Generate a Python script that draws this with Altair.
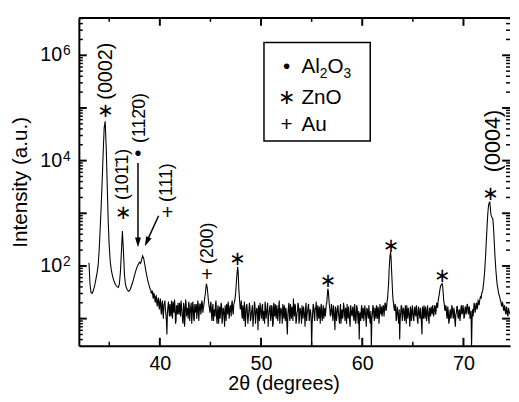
import altair as alt
import pandas as pd

# ---------------- data ----------------
two_theta_start = 33.0   # degrees, first sample of the main grid
two_theta_step = 0.1     # grid step

intensity = [
    115, 45, 31, 30, 33, 38, 46, 58, 75, 100,                 # 33
    190, 480, 1300, 4000, 14000, 42000, 56000, 18000, 3500, 700,  # 34
    240, 120, 85, 68, 57, 50, 45, 42, 40, 39,                 # 35
    45, 75, 180, 460, 200, 70, 45, 38, 35, 33,                # 36
    34, 37, 42, 48, 56, 66, 78, 90, 100, 110,                 # 37
    118, 112, 132, 155, 140, 110, 84, 66, 54, 45,             # 38
    39, 35, 32, 28, 30, 24, 26, 20, 23, 18,                   # 39
    21, 15, 19, 13, 18, 22, 12, 5, 17, 14,                    # 40
    19, 11, 16, 21, 13, 17, 9, 15, 20, 12,                    # 41
    16, 22, 13, 8, 17, 12, 19, 14, 10, 18,                    # 42
    13, 20, 12, 17, 9, 15, 19, 13, 18, 14,                    # 43
    19, 15, 20, 16, 22, 30, 46, 36, 22, 16,                   # 44
    18, 12, 16, 9, 15, 19, 11, 14, 8, 17,                     # 45
    13, 18, 10, 15, 7, 14, 19, 12, 16, 14,                    # 46
    15, 19, 14, 18, 22, 32, 62, 96, 38, 20,                   # 47
    17, 12, 18, 9, 15, 11, 19, 8, 14, 17,                     # 48
    10, 15, 7, 13, 18, 11, 16, 6, 14, 20,                     # 49
    12, 17, 9, 14, 21, 10, 15, 7, 13, 18,                     # 50
    11, 16, 8, 14, 19, 10, 15, 12, 22, 11,                    # 51
    15, 8, 14, 18, 9, 13, 5, 16, 11, 19,                      # 52
    10, 14, 24, 11, 17, 9, 14, 18, 10, 15,                    # 53
    8, 13, 17, 11, 16, 9, 14, 19, 10, 14,                     # 54
    2.8, 13, 17, 9, 15, 12, 18, 10, 14, 16,                   # 55
    11, 15, 10, 16, 14, 20, 37, 24, 15, 12,                   # 56
    16, 9, 14, 6, 15, 11, 18, 10, 14, 8,                      # 57
    15, 11, 17, 9, 14, 19, 10, 13, 7, 15,                     # 58
    11, 17, 9, 14, 10, 16, 8, 4, 13, 15,                      # 59
    10, 16, 12, 14, 7, 15, 10, 13, 8, 2.8,                    # 60
    12, 16, 9, 14, 18, 10, 15, 11, 14, 17,                    # 61
    13, 17, 15, 19, 16, 24, 45, 120, 183, 80,                 # 62
    30, 19, 14, 16, 10, 14, 8, 4, 13, 17,                     # 63
    11, 15, 9, 14, 18, 10, 13, 7, 15, 12,                     # 64
    14, 9, 17, 11, 14, 8, 15, 10, 13, 5,                      # 65
    14, 18, 10, 15, 11, 14, 8, 13, 17, 12,                    # 66
    15, 13, 17, 14, 19, 22, 28, 38, 44, 46,                   # 67
    30, 19, 14, 16, 10, 14, 9, 15, 11, 16,                    # 68
    10, 14, 7, 13, 17, 10, 15, 11, 18, 13,                    # 69
    15, 11, 17, 14, 19, 12, 16, 11, 2.8, 15,                  # 70
    14, 18, 15, 20, 17, 21, 22, 26, 30, 34,                   # 71
    48, 80, 170, 420, 950, 1500, 1630, 1000, 850, 800,        # 72
    420, 170, 85, 50, 37, 29, 25, 21, 17, 19,                 # 73
    14, 16, 12, 15, 11, 14, 12,                               # 74
]

# the scan is denser than the 0.1 grid: samples half way between, from 39.05
mid_start = 39.05
intensity_mid = [
    36, 30, 34, 24, 29, 20, 27, 17, 25, 15,                   # 39.x5
    24, 12, 22, 10, 20, 15, 9, 13, 21, 11,                    # 40.x5
    14, 22, 10, 17, 23, 8, 18, 12, 14, 20,                    # 41.x5
    11, 17, 9, 20, 7, 23, 11, 16, 21, 9,                      # 42.x5
    17, 8, 21, 10, 19, 13, 10, 22, 9, 19,                     # 43.x5
    12, 22, 13, 18, 26, 38, 42, 28, 18, 13,                   # 44.x5
    21, 9, 19, 13, 11, 22, 8, 18, 12, 10,                     # 45.x5
    20, 8, 16, 11, 18, 9, 16, 21, 10, 18,                     # 46.x5
    11, 22, 12, 20, 26, 45, 80, 70, 27, 15,                   # 47.x5
    22, 10, 14, 21, 7, 17, 13, 11, 20, 9,                     # 48.x5
    13, 18, 10, 21, 8, 15, 12, 18, 9, 16,                     # 49.x5
    10, 19, 12, 8, 17, 13, 20, 11, 16, 9,                     # 50.x5
    18, 7, 20, 11, 13, 18, 9, 17, 8, 16,                      # 51.x5
    12, 19, 10, 13, 16, 8, 12, 20, 9, 14,                     # 52.x5
    17, 9, 15, 19, 8, 13, 20, 8, 16, 12,                      # 53.x5
    18, 10, 14, 7, 20, 12, 17, 9, 15, 10,                     # 54.x5
    8, 19, 11, 16, 21, 9, 13, 17, 8, 19,                      # 55.x5
    9, 18, 13, 11, 19, 28, 33, 18, 11, 19,                    # 56.x5
    12, 18, 10, 17, 9, 16, 13, 8, 19, 12,                     # 57.x5
    10, 20, 12, 16, 8, 13, 17, 9, 18, 12,                     # 58.x5
    16, 10, 19, 8, 18, 11, 14, 12, 9, 18,                     # 59.x5
    13, 9, 18, 10, 16, 12, 18, 9, 14, 10,                     # 60.x5
    18, 11, 16, 10, 13, 17, 8, 19, 12, 11,                    # 61.x5
    18, 11, 20, 14, 21, 33, 80, 160, 140, 50,                 # 62.x5
    22, 15, 19, 9, 17, 11, 15, 10, 18, 9,                     # 63.x5
    16, 11, 18, 8, 13, 16, 11, 17, 9, 18,                     # 64.x5
    10, 15, 12, 18, 9, 17, 12, 16, 8, 17,                     # 65.x5
    10, 13, 17, 9, 18, 10, 16, 11, 14, 18,                    # 66.x5
    11, 18, 12, 20, 16, 25, 33, 42, 45, 40,                   # 67.x5
    22, 15, 18, 11, 17, 8, 13, 10, 18, 12,                    # 68.x5
    16, 9, 12, 17, 11, 14, 9, 16, 12, 18,                     # 69.x5
    10, 16, 12, 18, 13, 17, 10, 14, 9, 11,                    # 70.x5
    20, 13, 19, 15, 22, 18, 25, 24, 32, 40,                   # 71.x5
    62, 120, 280, 650, 1250, 1600, 1300, 900, 820, 600,       # 72.x5
    270, 120, 65, 42, 32, 27, 22, 18, 20, 15,                 # 73.x5
    18, 13, 17, 12, 16, 13,                                   # 74.x5
]

x_ticks_major = [40, 50, 60, 70]
x_ticks_minor = [35, 45, 55, 65]
y_label_values = [1e2, 1e4, 1e6]
y_label_base = ["10", "10", "10"]
y_label_exp = ["2", "4", "6"]

# rotated Miller-index labels (x = centre line, y = lower end of the text)
label_text = ["(0002)", "(101\u03041)", "(112\u03040)", "(111)", "(200)", "(0004)"]
label_x = [34.72, 36.4, 38.0, 40.75, 44.74, 72.9]
label_y = [144000, 1790, 21700, 1640, 109, 6000]
label_size = [20, 18, 18, 18, 18, 22]

# phase symbols next to the peaks (star = ZnO, dot = Al2O3, plus = Au)
symbol_text = ["\u2217", "\u2217", "\u2022", "+", "+", "\u2217",
               "\u2217", "\u2217", "\u2217", "\u2217"]
symbol_x = [34.63, 36.38, 37.84, 40.75, 44.65, 72.66, 47.66, 56.61, 62.84, 67.9]
symbol_y = [66400, 789, 10400, 789, 52.4, 1786, 104, 40.5, 182, 50.2]

arrow_x1 = [37.84, 39.88]
arrow_y1 = [9000, 897]
arrow_x2 = [37.84, 38.81]
arrow_y2 = [319, 319]
arrowhead_x = [37.84, 38.717]
arrowhead_y = [281, 287]
arrowhead_angle = [0, 24]

legend_box = {"x1": [50.29], "x2": [60.79], "y1": [1.75e6], "y2": [23650]}
legend_symbols = ["\u2022", "\u2217", "+"]
legend_rows_y = [4.6e5, 1.213e5, 3.63e4]
legend_x = 52.53

# ---------------- chart ----------------
FONT = "Liberation Sans, Arial, DejaVu Sans"
W, H = 438, 333

two_theta = [round(two_theta_start + two_theta_step * i, 2) for i in range(len(intensity))]
two_theta_mid = [round(mid_start + two_theta_step * i, 2) for i in range(len(intensity_mid))]
spec = pd.DataFrame({"two_theta": two_theta + two_theta_mid,
                     "intensity": intensity + intensity_mid}).sort_values("two_theta")

xs = alt.Scale(domain=[32, 74.6], nice=False, zero=False)
ys = alt.Scale(type="log", domain=[3.06, 5.13e6], nice=False)

AX_X = alt.Axis(values=x_ticks_major, format="d", ticks=False, tickSize=0,
                labelFontSize=20, labelPadding=8, grid=False,
                title="2\u03b8 (degrees)", titleFontSize=20, titleX=208, titleY=45,
                titleAlign="center", titleBaseline="alphabetic")
AX_Y = alt.Axis(labels=False, ticks=False, tickSize=0, grid=False,
                title="Intensity (a.u.)", titleFontSize=21, titleX=-53, titleY=166.5,
                titleAngle=270, titleAlign="center", titleBaseline="alphabetic")


def X(f):
    return alt.X(f, type="quantitative", scale=xs, axis=AX_X)


def Y(f):
    return alt.Y(f, type="quantitative", scale=ys, axis=AX_Y)


line = alt.Chart(spec).mark_line(color="black", strokeWidth=1.1, clip=True).encode(
    x=X("two_theta"), y=Y("intensity"), order="two_theta:Q")

layers = [line]

# top frame line
layers.append(alt.Chart(pd.DataFrame({"a": [0]})).mark_rule(color="black", strokeWidth=2).encode(
    x=alt.value(0), x2=alt.value(W), y=alt.value(0)))

# inward ticks
xt_major = pd.DataFrame({"t": x_ticks_major})
xt_minor = pd.DataFrame({"t": x_ticks_minor})
for df, ln, sw in [(xt_major, 8, 2), (xt_minor, 4, 1.5)]:
    layers.append(alt.Chart(df).mark_rule(color="black", strokeWidth=sw).encode(
        x=X("t"), y=alt.value(H), y2=alt.value(H - ln)))
    layers.append(alt.Chart(df).mark_rule(color="black", strokeWidth=sw).encode(
        x=X("t"), y=alt.value(0), y2=alt.value(ln)))

y_major = [10.0 ** k for k in range(1, 7)]
y_minor = [m * 10.0 ** k for k in range(0, 7) for m in range(2, 10) if 3.06 <= m * 10.0 ** k <= 5.13e6]
for vals, ln, sw in [(y_major, 8, 2), (y_minor, 4, 1.5)]:
    df = pd.DataFrame({"t": vals})
    layers.append(alt.Chart(df).mark_rule(color="black", strokeWidth=sw).encode(
        y=Y("t"), x=alt.value(0), x2=alt.value(ln)))
    layers.append(alt.Chart(df).mark_rule(color="black", strokeWidth=sw).encode(
        y=Y("t"), x=alt.value(W), x2=alt.value(W - ln)))

# y tick labels 10^n
ylab = pd.DataFrame({"v": y_label_values, "b": y_label_base, "e": y_label_exp})
layers.append(alt.Chart(ylab).mark_text(align="right", baseline="middle", fontSize=20, font=FONT,
                                        color="black").encode(
    y=Y("v"), x=alt.value(-17), text="b:N"))
layers.append(alt.Chart(ylab).mark_text(align="left", baseline="alphabetic", fontSize=14, font=FONT,
                                        color="black").encode(
    y=Y("v"), x=alt.value(-16), text="e:N"))

# rotated peak labels
pk = pd.DataFrame({"x": label_x, "y": label_y, "t": label_text, "s": label_size})
layers.append(alt.Chart(pk).mark_text(angle=270, align="left", baseline="middle",
                                      font=FONT, color="black").encode(
    x=X("x"), y=Y("y"), text="t:N", size=alt.Size("s:Q", scale=None)))

# phase symbols
sy = pd.DataFrame({"x": symbol_x, "y": symbol_y, "t": symbol_text})
layers.append(alt.Chart(sy).mark_text(align="center", baseline="alphabetic", fontSize=20,
                                      font=FONT, color="black").encode(
    x=X("x"), y=Y("y"), text="t:N"))

# arrows
ar = pd.DataFrame({"x1": arrow_x1, "y1": arrow_y1, "x2": arrow_x2, "y2": arrow_y2})
layers.append(alt.Chart(ar).mark_rule(color="black", strokeWidth=1.5).encode(
    x=X("x1"), y=Y("y1"), x2="x2:Q", y2="y2:Q"))
ah = pd.DataFrame({"x": arrowhead_x, "y": arrowhead_y, "a": arrowhead_angle})
layers.append(alt.Chart(ah).mark_point(shape="M0,1L-0.6,-1L0.6,-1Z", filled=True, color="black",
                                       size=100, opacity=1).encode(
    x=X("x"), y=Y("y"), angle=alt.Angle("a:Q", scale=None)))

# legend box
lb = pd.DataFrame(legend_box)
layers.append(alt.Chart(lb).mark_rect(fill="white", fillOpacity=0, stroke="black", strokeWidth=1.5).encode(
    x=X("x1"), x2="x2:Q", y=Y("y1"), y2="y2:Q"))

lg = pd.DataFrame({"x": [legend_x] * 3, "y": legend_rows_y, "s": legend_symbols})
layers.append(alt.Chart(lg).mark_text(align="center", baseline="alphabetic", fontSize=21, font=FONT,
                                      color="black").encode(x=X("x"), y=Y("y"), text="s:N"))

# legend names: Al2O3 with subscripts, ZnO, Au
lg_parts = [
    ("Al", legend_rows_y[0], 15, 0, 21),
    ("2", legend_rows_y[0], 33.7, 5, 14),
    ("O", legend_rows_y[0], 41.5, 0, 21),
    ("3", legend_rows_y[0], 57.8, 5, 14),
    ("ZnO", legend_rows_y[1], 15, 0, 21),
    ("Au", legend_rows_y[2], 15, 0, 21),
]
for txt, yv, dx, dy, fs in lg_parts:
    d = pd.DataFrame({"x": [legend_x], "y": [yv], "t": [txt]})
    layers.append(alt.Chart(d).mark_text(align="left", baseline="alphabetic", fontSize=fs, font=FONT,
                                         color="black", dx=dx, dy=dy).encode(
        x=X("x"), y=Y("y"), text="t:N"))

chart = alt.layer(*layers).properties(
    width=W, height=H,
    autosize=alt.AutoSizeParams(type="none"),
    padding={"left": 72, "top": 7, "right": 1, "bottom": 46},
).configure_view(stroke=None).configure_axis(
    domainColor="black", domainWidth=2, labelColor="black", titleColor="black",
    labelFont=FONT, titleFont=FONT, titleFontWeight="normal", grid=False,
)

chart.save("out.html", embed_options={"renderer": "svg", "actions": False})
